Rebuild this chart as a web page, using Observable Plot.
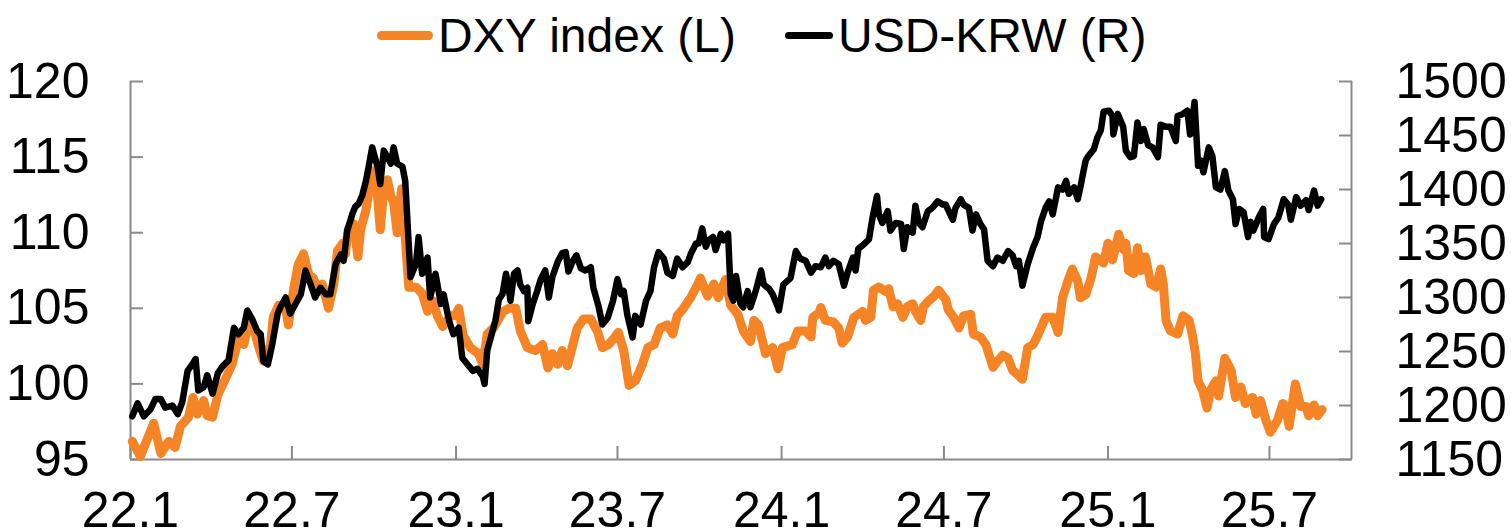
<!DOCTYPE html>
<html><head><meta charset="utf-8">
<script src="https://cdn.jsdelivr.net/npm/d3@7"></script>
<script src="https://cdn.jsdelivr.net/npm/@observablehq/plot@0.6"></script>
<style>
body{margin:0;background:#fff;font-family:"Liberation Sans",Arial,sans-serif;}
#legend{position:relative;height:60px;width:1511px;}
.item{position:absolute;top:8px;display:flex;align-items:center;font-size:48px;color:#000;line-height:normal;white-space:nowrap;}
.sw{display:inline-block;border-radius:5px;margin-right:5px;}
</style></head><body>
<div id="legend"></div>
<div id="chart"></div>
<script>
const seriesNames = ["DXY index (L)", "USD-KRW (R)"];
const seriesColors = ["#F58426", "#000000"];
const xTickDates = ["2022-01-01","2022-07-01","2023-01-01","2023-07-01","2024-01-01","2024-07-01","2025-01-01","2025-07-01"];
const xTickLabels = ["22.1","22.7","23.1","23.7","24.1","24.7","25.1","25.7"];
const xDomainDates = ["2022-01-01","2025-10-01"];
const leftTicks = [95,100,105,110,115,120];
const rightTicks = [1150,1200,1250,1300,1350,1400,1450,1500];

const dxy = [["2022-01-03",96.2],["2022-01-12",95.2],["2022-01-27",97.4],["2022-02-04",95.4],["2022-02-13",96.2],["2022-02-20",95.8],["2022-02-26",97.2],["2022-03-07",97.8],["2022-03-12",99.1],["2022-03-17",98.0],["2022-03-24",98.9],["2022-03-28",97.9],["2022-04-03",97.8],["2022-04-09",99.3],["2022-04-18",100.4],["2022-04-25",101.3],["2022-05-02",103.0],["2022-05-08",102.6],["2022-05-13",103.9],["2022-05-19",103.7],["2022-05-25",102.4],["2022-05-30",101.5],["2022-06-07",102.6],["2022-06-10",104.4],["2022-06-16",105.2],["2022-06-24",105.0],["2022-06-27",103.9],["2022-07-03",106.3],["2022-07-08",107.9],["2022-07-14",108.6],["2022-07-20",107.2],["2022-07-25",107.0],["2022-07-30",106.1],["2022-08-04",106.6],["2022-08-11",105.0],["2022-08-17",106.6],["2022-08-21",108.8],["2022-08-27",109.3],["2022-08-30",108.6],["2022-09-02",110.2],["2022-09-08",110.6],["2022-09-13",108.4],["2022-09-16",110.2],["2022-09-22",111.5],["2022-09-27",113.2],["2022-10-01",114.1],["2022-10-05",112.4],["2022-10-08",110.2],["2022-10-12",112.8],["2022-10-16",113.5],["2022-10-20",112.4],["2022-10-23",112.0],["2022-10-27",110.0],["2022-11-01",112.9],["2022-11-05",109.7],["2022-11-09",106.4],["2022-11-17",106.4],["2022-11-24",106.0],["2022-11-30",104.8],["2022-12-06",105.5],["2022-12-11",104.5],["2022-12-17",103.8],["2022-12-26",104.5],["2022-12-31",104.5],["2023-01-04",105.0],["2023-01-09",103.2],["2023-01-17",102.4],["2023-01-26",102.0],["2023-01-31",101.3],["2023-02-05",103.3],["2023-02-12",103.7],["2023-02-23",104.8],["2023-03-01",105.0],["2023-03-09",105.0],["2023-03-14",103.5],["2023-03-22",102.4],["2023-03-31",102.2],["2023-04-08",102.6],["2023-04-14",101.05],["2023-04-19",102.0],["2023-04-25",101.3],["2023-04-30",102.2],["2023-05-06",101.2],["2023-05-12",102.6],["2023-05-17",103.7],["2023-05-24",104.3],["2023-06-01",104.3],["2023-06-09",103.4],["2023-06-14",102.4],["2023-06-21",102.6],["2023-06-27",103.0],["2023-07-02",103.4],["2023-07-08",102.2],["2023-07-14",99.9],["2023-07-21",100.2],["2023-07-29",101.3],["2023-08-04",102.4],["2023-08-11",102.6],["2023-08-18",103.7],["2023-08-26",103.9],["2023-09-01",103.3],["2023-09-06",104.5],["2023-09-13",105.0],["2023-09-21",105.7],["2023-09-29",106.6],["2023-10-02",107.0],["2023-10-10",105.8],["2023-10-17",106.6],["2023-10-22",105.7],["2023-10-30",106.9],["2023-11-05",105.2],["2023-11-13",104.6],["2023-11-19",103.5],["2023-11-27",102.8],["2023-12-01",104.2],["2023-12-06",103.9],["2023-12-14",102.0],["2023-12-22",102.4],["2023-12-28",101.0],["2024-01-02",102.4],["2024-01-13",102.6],["2024-01-19",103.5],["2024-01-28",103.5],["2024-02-03",103.1],["2024-02-05",104.4],["2024-02-12",104.7],["2024-02-14",105.05],["2024-02-19",104.2],["2024-02-28",104.1],["2024-03-05",103.7],["2024-03-09",102.7],["2024-03-15",103.1],["2024-03-22",104.4],["2024-04-01",104.8],["2024-04-04",104.2],["2024-04-10",104.4],["2024-04-13",106.2],["2024-04-19",106.4],["2024-04-27",106.1],["2024-04-30",106.3],["2024-05-05",105.1],["2024-05-10",105.3],["2024-05-16",104.4],["2024-05-21",105.1],["2024-05-27",105.3],["2024-05-30",104.8],["2024-06-05",104.2],["2024-06-08",105.1],["2024-06-14",105.5],["2024-06-20",105.8],["2024-06-25",106.2],["2024-06-30",105.8],["2024-07-03",105.6],["2024-07-06",104.9],["2024-07-12",104.4],["2024-07-18",103.7],["2024-07-23",104.5],["2024-07-31",104.6],["2024-08-03",103.3],["2024-08-11",103.1],["2024-08-17",102.6],["2024-08-25",101.1],["2024-08-30",101.5],["2024-09-05",101.9],["2024-09-11",101.7],["2024-09-16",100.9],["2024-09-22",100.6],["2024-09-27",100.3],["2024-10-03",102.4],["2024-10-09",102.6],["2024-10-15",103.3],["2024-10-23",104.4],["2024-10-31",104.4],["2024-11-06",103.4],["2024-11-11",105.7],["2024-11-17",106.8],["2024-11-22",107.6],["2024-11-28",106.8],["2024-12-01",105.7],["2024-12-07",105.9],["2024-12-13",107.0],["2024-12-18",108.4],["2024-12-27",108.0],["2025-01-01",109.3],["2025-01-06",108.2],["2025-01-13",109.9],["2025-01-18",108.9],["2025-01-21",109.3],["2025-01-24",107.5],["2025-01-30",107.3],["2025-02-03",109.0],["2025-02-07",107.5],["2025-02-12",108.4],["2025-02-18",106.6],["2025-02-24",106.4],["2025-03-01",107.6],["2025-03-04",106.6],["2025-03-07",104.2],["2025-03-12",103.5],["2025-03-20",103.3],["2025-03-26",104.5],["2025-04-02",104.2],["2025-04-06",103.1],["2025-04-09",102.0],["2025-04-12",100.2],["2025-04-17",99.6],["2025-04-22",98.4],["2025-04-26",99.6],["2025-05-02",100.2],["2025-05-05",99.2],["2025-05-12",101.7],["2025-05-19",100.9],["2025-05-24",99.1],["2025-05-30",99.8],["2025-06-04",98.7],["2025-06-12",99.1],["2025-06-16",98.0],["2025-06-21",98.9],["2025-06-27",97.6],["2025-07-02",96.8],["2025-07-10",97.6],["2025-07-16",98.7],["2025-07-19",98.5],["2025-07-23",97.2],["2025-07-30",100.0],["2025-08-05",98.5],["2025-08-11",98.5],["2025-08-14",97.9],["2025-08-20",98.6],["2025-08-24",97.9],["2025-08-29",98.3]];

const krw = [["2022-01-03",1190],["2022-01-09",1202],["2022-01-16",1190],["2022-01-23",1196],["2022-01-29",1206],["2022-02-04",1206],["2022-02-09",1198],["2022-02-17",1200],["2022-02-23",1192],["2022-02-28",1203],["2022-03-06",1232],["2022-03-12",1239],["2022-03-15",1243],["2022-03-18",1214],["2022-03-24",1217],["2022-03-28",1228],["2022-04-03",1211],["2022-04-09",1230],["2022-04-14",1236],["2022-04-21",1242],["2022-04-27",1272],["2022-05-02",1266],["2022-05-08",1272],["2022-05-12",1288],["2022-05-18",1279],["2022-05-23",1269],["2022-05-27",1266],["2022-05-30",1241],["2022-06-04",1238],["2022-06-09",1257],["2022-06-15",1285],["2022-06-18",1291],["2022-06-24",1300],["2022-06-29",1285],["2022-07-05",1294],["2022-07-11",1303],["2022-07-16",1325],["2022-07-22",1312],["2022-07-27",1300],["2022-08-02",1309],["2022-08-08",1303],["2022-08-13",1303],["2022-08-19",1331],["2022-08-25",1340],["2022-08-28",1334],["2022-09-01",1362],["2022-09-07",1378],["2022-09-10",1384],["2022-09-14",1387],["2022-09-18",1395],["2022-09-22",1408],["2022-09-25",1421],["2022-09-29",1439],["2022-10-05",1421],["2022-10-08",1405],["2022-10-12",1436],["2022-10-16",1430],["2022-10-20",1424],["2022-10-23",1439],["2022-10-27",1424],["2022-11-02",1421],["2022-11-05",1408],["2022-11-11",1319],["2022-11-17",1331],["2022-11-20",1356],["2022-11-24",1322],["2022-11-30",1337],["2022-12-03",1300],["2022-12-09",1322],["2022-12-15",1294],["2022-12-18",1303],["2022-12-24",1279],["2022-12-29",1266],["2023-01-04",1272],["2023-01-08",1244],["2023-01-14",1238],["2023-01-20",1232],["2023-01-25",1234],["2023-01-31",1227],["2023-02-02",1220],["2023-02-05",1251],["2023-02-11",1269],["2023-02-14",1278],["2023-02-18",1298],["2023-02-22",1303],["2023-02-26",1322],["2023-03-01",1309],["2023-03-03",1297],["2023-03-07",1322],["2023-03-11",1325],["2023-03-14",1312],["2023-03-18",1306],["2023-03-22",1309],["2023-03-23",1278],["2023-03-28",1294],["2023-04-02",1306],["2023-04-06",1317],["2023-04-11",1325],["2023-04-15",1300],["2023-04-19",1319],["2023-04-25",1333],["2023-04-30",1341],["2023-05-04",1342],["2023-05-07",1324],["2023-05-12",1334],["2023-05-16",1339],["2023-05-21",1327],["2023-05-26",1325],["2023-06-01",1328],["2023-06-04",1309],["2023-06-10",1291],["2023-06-14",1275],["2023-06-20",1281],["2023-06-26",1297],["2023-07-01",1317],["2023-07-05",1303],["2023-07-08",1306],["2023-07-12",1284],["2023-07-18",1263],["2023-07-21",1283],["2023-07-27",1275],["2023-08-02",1297],["2023-08-07",1306],["2023-08-11",1328],["2023-08-16",1342],["2023-08-22",1336],["2023-08-26",1323],["2023-09-01",1320],["2023-09-06",1336],["2023-09-12",1328],["2023-09-18",1333],["2023-09-21",1340],["2023-09-27",1350],["2023-09-30",1350],["2023-10-04",1364],["2023-10-08",1347],["2023-10-11",1353],["2023-10-16",1356],["2023-10-19",1344],["2023-10-25",1359],["2023-10-28",1353],["2023-11-02",1359],["2023-11-05",1303],["2023-11-08",1297],["2023-11-11",1320],["2023-11-16",1294],["2023-11-19",1291],["2023-11-24",1306],["2023-11-27",1291],["2023-12-03",1306],["2023-12-09",1325],["2023-12-12",1312],["2023-12-18",1308],["2023-12-22",1303],["2023-12-28",1291],["2023-12-29",1288],["2024-01-03",1312],["2024-01-11",1318],["2024-01-17",1343],["2024-01-22",1336],["2024-01-28",1334],["2024-02-03",1323],["2024-02-08",1329],["2024-02-14",1328],["2024-02-19",1337],["2024-02-23",1329],["2024-02-28",1334],["2024-03-05",1331],["2024-03-11",1311],["2024-03-15",1323],["2024-03-21",1337],["2024-03-24",1325],["2024-03-27",1345],["2024-04-02",1349],["2024-04-08",1354],["2024-04-12",1374],["2024-04-17",1394],["2024-04-19",1377],["2024-04-23",1369],["2024-04-29",1380],["2024-05-02",1362],["2024-05-08",1369],["2024-05-14",1368],["2024-05-17",1345],["2024-05-21",1365],["2024-05-27",1360],["2024-05-30",1385],["2024-06-03",1369],["2024-06-07",1365],["2024-06-13",1380],["2024-06-18",1383],["2024-06-24",1389],["2024-06-30",1386],["2024-07-03",1386],["2024-07-11",1372],["2024-07-14",1383],["2024-07-20",1391],["2024-07-23",1386],["2024-07-29",1383],["2024-08-02",1362],["2024-08-06",1377],["2024-08-11",1368],["2024-08-15",1363],["2024-08-19",1334],["2024-08-25",1329],["2024-08-30",1337],["2024-09-05",1334],["2024-09-11",1343],["2024-09-16",1339],["2024-09-20",1329],["2024-09-23",1334],["2024-09-27",1311],["2024-10-03",1331],["2024-10-09",1346],["2024-10-14",1356],["2024-10-18",1371],["2024-10-23",1383],["2024-10-27",1389],["2024-10-31",1377],["2024-11-06",1402],["2024-11-11",1400],["2024-11-15",1408],["2024-11-18",1396],["2024-11-24",1402],["2024-11-28",1391],["2024-12-01",1402],["2024-12-04",1415],["2024-12-07",1427],["2024-12-10",1431],["2024-12-16",1437],["2024-12-20",1448],["2024-12-24",1455],["2024-12-27",1472],["2025-01-02",1473],["2025-01-06",1468],["2025-01-07",1451],["2025-01-12",1470],["2025-01-18",1458],["2025-01-21",1436],["2025-01-26",1430],["2025-01-30",1431],["2025-02-03",1462],["2025-02-07",1445],["2025-02-10",1456],["2025-02-15",1441],["2025-02-20",1439],["2025-02-26",1430],["2025-03-01",1460],["2025-03-07",1458],["2025-03-12",1458],["2025-03-18",1445],["2025-03-20",1468],["2025-03-26",1470],["2025-03-31",1473],["2025-04-03",1451],["2025-04-06",1467],["2025-04-08",1481],["2025-04-12",1422],["2025-04-15",1427],["2025-04-18",1416],["2025-04-24",1439],["2025-04-28",1431],["2025-05-02",1402],["2025-05-07",1400],["2025-05-12",1417],["2025-05-16",1399],["2025-05-21",1391],["2025-05-24",1368],["2025-05-28",1382],["2025-06-02",1379],["2025-06-07",1356],["2025-06-10",1370],["2025-06-13",1362],["2025-06-19",1374],["2025-06-24",1382],["2025-06-25",1356],["2025-06-30",1354],["2025-07-06",1368],["2025-07-11",1374],["2025-07-17",1391],["2025-07-22",1386],["2025-07-25",1372],["2025-07-31",1393],["2025-08-05",1385],["2025-08-11",1390],["2025-08-14",1381],["2025-08-20",1399],["2025-08-24",1385],["2025-08-28",1391]];

// legend
const legend = document.getElementById("legend");
const legendLeft = [377, 785];
const swatchW = [56, 48];
const swatchH = [9, 7];
seriesNames.forEach((name, i) => {
  const item = document.createElement("div");
  item.className = "item";
  item.style.left = legendLeft[i] + "px";
  const sw = document.createElement("span");
  sw.className = "sw";
  sw.style.width = swatchW[i] + "px";
  sw.style.height = swatchH[i] + "px";
  sw.style.background = seriesColors[i];
  item.appendChild(sw);
  item.appendChild(document.createTextNode(name));
  legend.appendChild(item);
});

const parse = d3.utcParse("%Y-%m-%d");
const L0 = leftTicks[0], L1 = leftTicks[leftTicks.length - 1];
const R0 = rightTicks[0], R1 = rightTicks[rightTicks.length - 1];
const toLeft = r => L0 + (r - R0) * (L1 - L0) / (R1 - R0);
const toRight = l => Math.round(R0 + (l - L0) * (R1 - R0) / (L1 - L0));
const dxyData = dxy.map(([d, v]) => ({date: parse(d), value: v}));
const krwData = krw.map(([d, v]) => ({date: parse(d), value: v}));
const xTicks = xTickDates.map(parse);
const xLabel = new Map(xTicks.map((d, i) => [+d, xTickLabels[i]]));
const xDomain = xDomainDates.map(parse);
const gray = "#8a8a8a";

const chart = Plot.plot({
  width: 1511, height: 472,
  marginTop: 21, marginBottom: 73, marginLeft: 130, marginRight: 160,
  style: {fontFamily: "'Liberation Sans', Arial, sans-serif", fontSize: "50px", color: "#000", background: "#fff", overflow: "visible"},
  x: {type: "utc", domain: xDomain},
  y: {domain: [L0, L1]},
  marks: [
    Plot.ruleY([L0], {stroke: gray, strokeWidth: 2}),
    Plot.ruleX([xDomain[0]], {stroke: gray, strokeWidth: 2}),
    Plot.ruleX([xDomain[1]], {stroke: gray, strokeWidth: 2}),
    Plot.axisY({anchor: "left", ticks: leftTicks, tickSize: -13, tickFormat: () => "", stroke: gray, strokeWidth: 2, label: null}),
    Plot.axisY({anchor: "left", ticks: leftTicks, tickSize: 0, tickPadding: 41, fontSize: 50, label: null}),
    Plot.axisY({anchor: "right", ticks: rightTicks.map(toLeft), tickSize: -13, tickFormat: () => "", stroke: gray, strokeWidth: 2, label: null}),
    Plot.axisY({anchor: "right", ticks: rightTicks.map(toLeft), tickSize: 0, tickPadding: 44, fontSize: 50, tickFormat: d => String(toRight(d)), label: null}),
    Plot.axisX({anchor: "bottom", ticks: xTicks, tickSize: -13, tickFormat: () => "", stroke: gray, strokeWidth: 2, label: null}),
    Plot.axisX({anchor: "bottom", ticks: xTicks, tickSize: 0, tickPadding: 32, fontSize: 50, tickFormat: d => xLabel.get(+d), label: null}),
    Plot.line(dxyData, {x: "date", y: "value", stroke: seriesColors[0], strokeWidth: 9, strokeLinejoin: "round", strokeLinecap: "round"}),
    Plot.line(krwData, {x: "date", y: d => toLeft(d.value), stroke: seriesColors[1], strokeWidth: 6.5, strokeLinejoin: "round", strokeLinecap: "round"})
  ]
});
document.getElementById("chart").appendChild(chart);
</script>
</body></html>
